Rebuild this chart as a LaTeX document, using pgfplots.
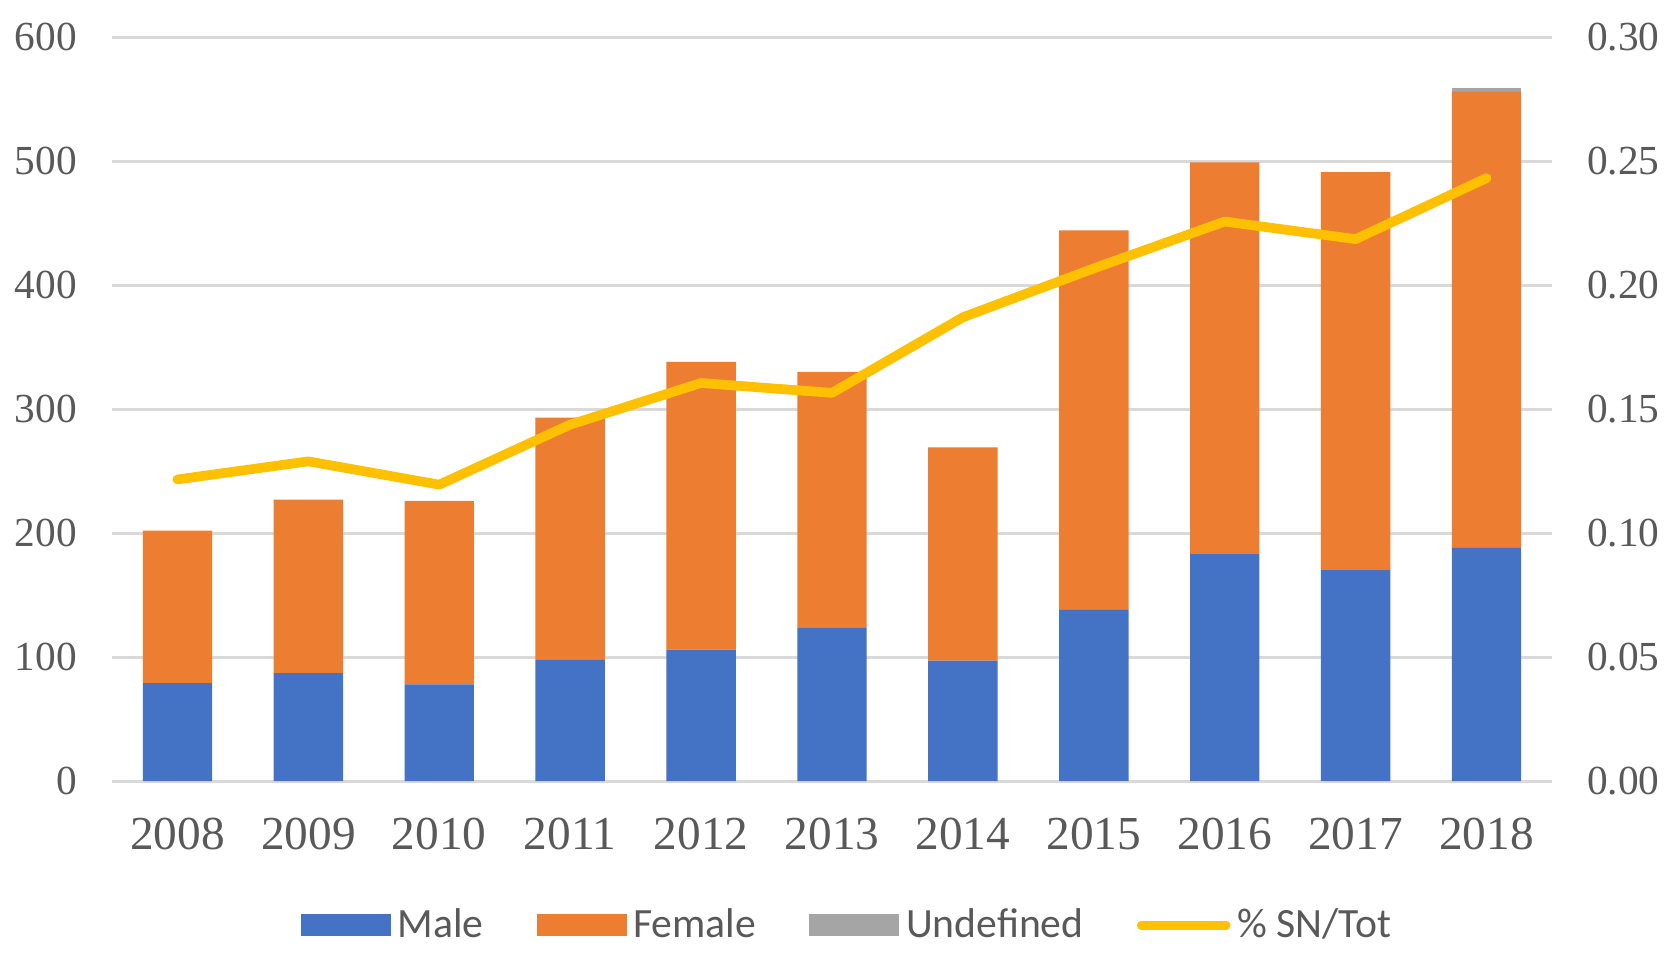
\documentclass[border=0pt]{standalone}
\usepackage{pgfplots}
\pgfplotsset{compat=1.18}
\usepackage{fontspec}
\setmainfont{Liberation Serif}
\newfontfamily\legfont{Carlito}
\definecolor{cMale}{HTML}{4472C4}
\definecolor{cFemale}{HTML}{ED7D31}
\definecolor{cUndef}{HTML}{A5A5A5}
\definecolor{cLine}{HTML}{FFC000}
\definecolor{gridgray}{HTML}{D9D9D9}
\definecolor{labelgray}{HTML}{595959}
\begin{document}
\begin{tikzpicture}
\begin{axis}[
  scale only axis, width=432pt, height=223.2pt,
  at={(0,0)}, anchor=south west,
  xmin=-0.5, xmax=10.5, ymin=0, ymax=600,
  ybar stacked, bar width=0.53,
  xtick={0,1,2,3,4,5,6,7,8,9,10},
  xticklabels={2008,2009,2010,2011,2012,2013,2014,2015,2016,2017,2018},
  ytick={0,100,200,300,400,500,600},
  ymajorgrids, grid style={color=gridgray, line width=0.9pt},
  axis lines=left, axis line style={draw=none},
  major tick length=0pt,
  /pgf/number format/assume math mode=true,
  yticklabel style={font=\fontsize{12.4}{14}\selectfont, text=labelgray, xshift=-7pt},
  xticklabel style={font=\fontsize{14.2}{16}\selectfont, text=labelgray, yshift=-7.5pt},
  legend style={at={(0.512,-0.194)}, anchor=center, draw=none, fill=none,
    legend columns=4, font=\legfont\fontsize{12.5}{14}\selectfont, text=labelgray,
    /tikz/every even column/.append style={column sep=14pt}, inner sep=0pt},
  legend cell align=left,
]
\addplot[fill=cMale, draw=none,
  legend image code/.code={\fill[cMale] (0pt,-3.3pt) rectangle (27pt,3.3pt);}]
  coordinates {(0,79) (1,87) (2,78) (3,98) (4,106) (5,124) (6,97) (7,138) (8,183) (9,170) (10,188)};
\addlegendentry{Male}
\addplot[fill=cFemale, draw=none,
  legend image code/.code={\fill[cFemale] (0pt,-3.3pt) rectangle (27pt,3.3pt);}]
  coordinates {(0,123) (1,140) (2,148) (3,195) (4,232) (5,206) (6,172) (7,306) (8,316) (9,321) (10,368)};
\addlegendentry{Female}
\addplot[fill=cUndef, draw=none,
  legend image code/.code={\fill[cUndef] (0pt,-3.3pt) rectangle (27pt,3.3pt);}]
  coordinates {(0,0) (1,0) (2,0) (3,0) (4,0) (5,0) (6,0) (7,0) (8,0) (9,0) (10,3)};
\addlegendentry{Undefined}
\addlegendimage{legend image code/.code={\draw[cLine, line width=2.6pt, line cap=round] (1.5pt,0pt) -- (27pt,0pt);}}
\addlegendentry{\% SN/Tot}
\end{axis}
\begin{axis}[
  scale only axis, width=432pt, height=223.2pt,
  at={(0,0)}, anchor=south west,
  xmin=-0.5, xmax=10.5, ymin=0, ymax=0.3,
  axis x line=none, axis y line*=right, axis line style={draw=none},
  major tick length=0pt,
  ytick={0,0.05,0.1,0.15,0.2,0.25,0.3},
  /pgf/number format/assume math mode=true,
  yticklabel style={/pgf/number format/fixed, /pgf/number format/precision=2,
    /pgf/number format/fixed zerofill,
    font=\fontsize{12.4}{14}\selectfont, text=labelgray, xshift=7pt},
]
\addplot[color=cLine, line width=2.9pt, line join=round, line cap=round]
  coordinates {(0,0.1216) (1,0.1289) (2,0.1195) (3,0.1437) (4,0.1605) (5,0.1565) (6,0.187) (7,0.2067) (8,0.2256) (9,0.2185) (10,0.2431)};
\end{axis}
\pgfresetboundingbox
\path (-33.6pt,-55.8pt) rectangle (469.8pt,234.3pt);
\end{tikzpicture}
\end{document}
